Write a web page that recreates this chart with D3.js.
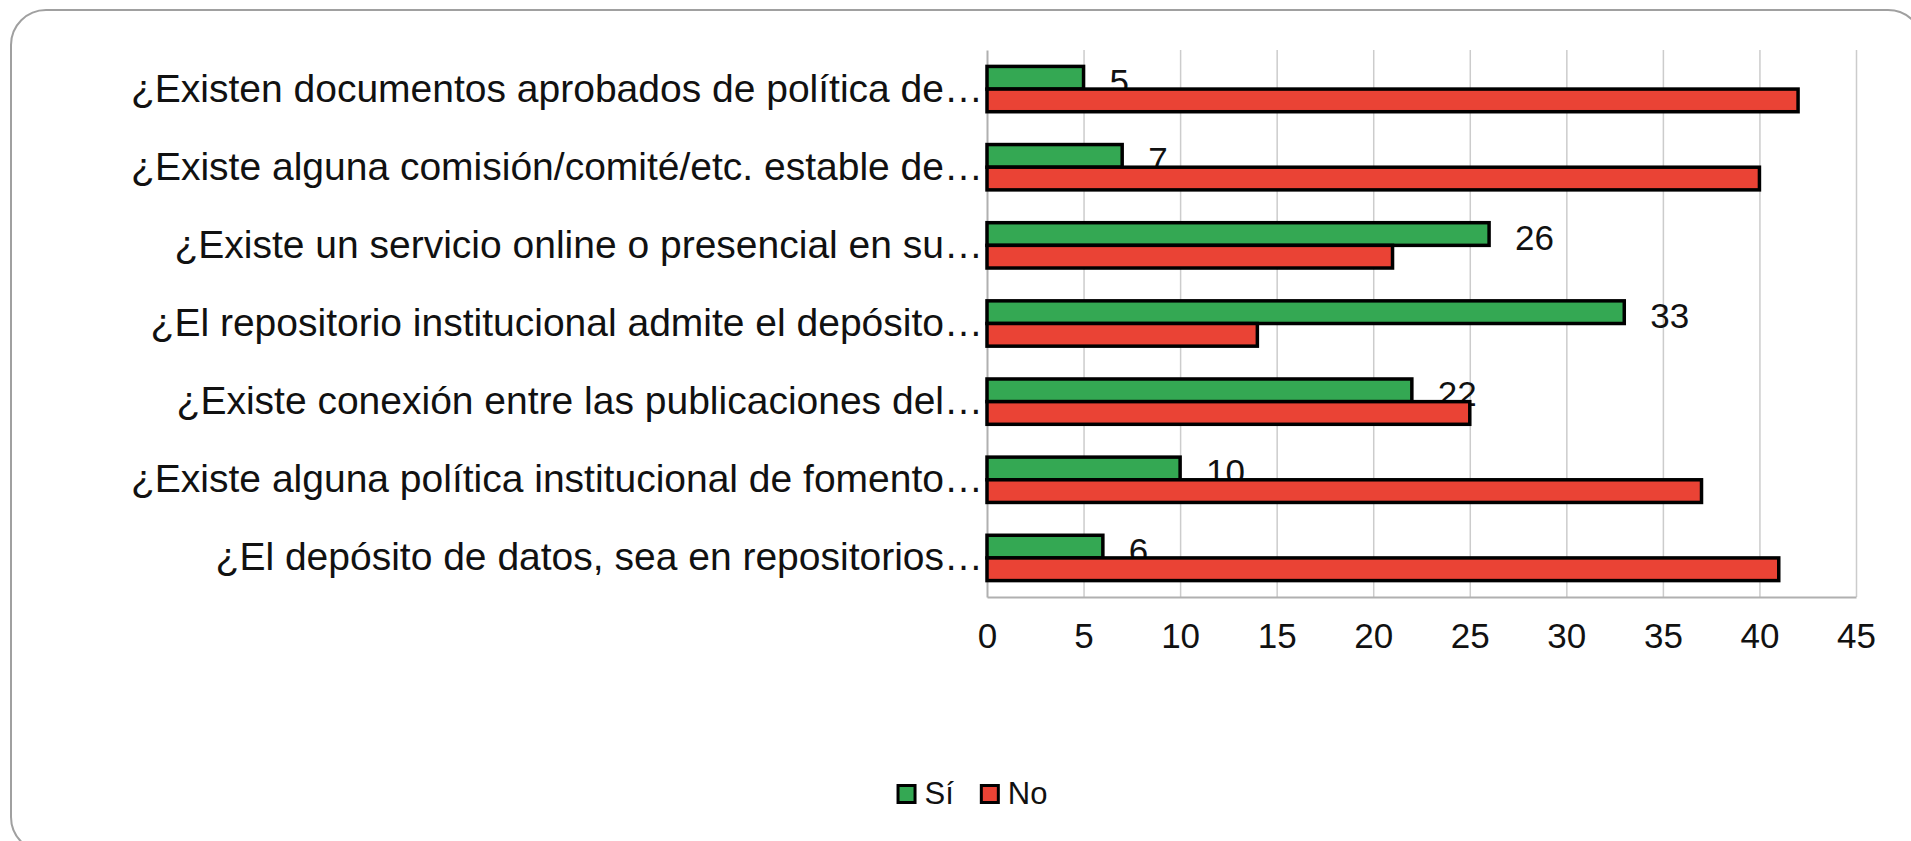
<!DOCTYPE html>
<html>
<head>
<meta charset="utf-8">
<script src="https://cdnjs.cloudflare.com/ajax/libs/d3/7.8.5/d3.min.js"></script>
<style>
  html, body { margin: 0; padding: 0; background: #fff; }
  svg { display: block; font-family: "Liberation Sans", Arial, sans-serif; }
  .grid line { stroke: #cccccc; stroke-width: 1.5; }
  .grid .domain { display: none; }
</style>
</head>
<body>
<div id="chart"></div>
<script>
// data
const categories = [
  '¿Existen documentos aprobados de política de…',
  '¿Existe alguna comisión/comité/etc. estable de…',
  '¿Existe un servicio online o presencial en su…',
  '¿El repositorio institucional admite el depósito…',
  '¿Existe conexión entre las publicaciones del…',
  '¿Existe alguna política institucional de fomento…',
  '¿El depósito de datos, sea en repositorios…'
];
const siValues = [5, 7, 26, 33, 22, 10, 6];
const noValues = [42, 40, 21, 14, 25, 37, 41];
const seriesNames = ['Sí', 'No'];
const seriesColors = ['#34a853', '#ea4335'];
const xTicks = [0, 5, 10, 15, 20, 25, 30, 35, 40, 45];

(function(){
  const W = 1911, H = 841;
  const plot = {left: 987, right: 1856, top: 50, bottom: 597};

  const svg = d3.select('#chart').append('svg')
    .attr('width', W)
    .attr('height', H);

  // outer rounded frame (runs off the bottom-right corner)
  svg.append('rect')
    .attr('x', 11).attr('y', 10)
    .attr('width', 1912).attr('height', 842)
    .attr('rx', 35).attr('ry', 35)
    .attr('fill', '#fff')
    .attr('stroke', '#a0a0a0')
    .attr('stroke-width', 2);

  const x = d3.scaleLinear()
    .domain([0, 45])
    .range([plot.left, plot.right]);

  const y = d3.scaleBand()
    .domain(categories)
    .range([plot.top, plot.bottom])
    .paddingInner(0.42)
    .paddingOuter(0.21);

  const ys = d3.scaleBand()
    .domain(seriesNames)
    .range([0, y.bandwidth()]);

  // vertical gridlines
  svg.append('g')
    .attr('class', 'grid')
    .attr('transform', 'translate(0,' + plot.bottom + ')')
    .call(d3.axisBottom(x)
      .tickValues(xTicks.slice(1))
      .tickSize(-(plot.bottom - plot.top))
      .tickFormat(() => null));

  // x axis labels
  const xAxis = svg.append('g')
    .attr('transform', 'translate(0,' + plot.bottom + ')')
    .call(d3.axisBottom(x)
      .tickValues(xTicks)
      .tickSize(0)
      .tickPadding(26)
      .tickFormat(d3.format('d')));
  xAxis.select('.domain').attr('stroke', '#b0b0b0').attr('stroke-width', 2);
  xAxis.selectAll('text')
    .attr('font-size', 35)
    .attr('font-family', '"Liberation Sans", Arial, sans-serif')
    .attr('fill', '#111');

  // category axis
  const yAxis = svg.append('g')
    .attr('transform', 'translate(' + plot.left + ',0)')
    .call(d3.axisLeft(y).tickSize(0).tickPadding(4));
  yAxis.select('.domain').attr('stroke', '#b0b0b0').attr('stroke-width', 2);
  yAxis.selectAll('text')
    .attr('font-size', 39)
    .attr('font-family', '"Liberation Sans", Arial, sans-serif')
    .attr('fill', '#111');

  const rows = categories.map((c, i) => ({cat: c, si: siValues[i], no: noValues[i]}));

  // Sí bars
  svg.append('g').selectAll('rect')
    .data(rows)
    .enter().append('rect')
      .attr('x', x(0))
      .attr('y', d => y(d.cat) + ys('Sí'))
      .attr('width', d => x(d.si) - x(0))
      .attr('height', ys.bandwidth())
      .attr('fill', seriesColors[0])
      .attr('stroke', '#000')
      .attr('stroke-width', 3.5);

  // Sí labels (the red bars are drawn over them)
  svg.append('g').selectAll('text')
    .data(rows)
    .enter().append('text')
      .attr('x', d => x(d.si) + 26)
      .attr('y', d => y(d.cat) + ys('Sí') + ys.bandwidth() / 2 + 16)
      .attr('font-size', 35)
      .attr('fill', '#111')
      .text(d => d.si);

  // No bars
  svg.append('g').selectAll('rect')
    .data(rows)
    .enter().append('rect')
      .attr('x', x(0))
      .attr('y', d => y(d.cat) + ys('No'))
      .attr('width', d => x(d.no) - x(0))
      .attr('height', ys.bandwidth())
      .attr('fill', seriesColors[1])
      .attr('stroke', '#000')
      .attr('stroke-width', 3.5);

  // legend
  const legend = svg.append('g');
  let cx = 0;
  seriesNames.forEach((name, i) => {
    const item = legend.append('g').attr('transform', 'translate(' + cx + ',0)');
    item.append('rect')
      .attr('x', 1.5).attr('y', -18.5)
      .attr('width', 17).attr('height', 17)
      .attr('fill', seriesColors[i])
      .attr('stroke', '#000')
      .attr('stroke-width', 3);
    const t = item.append('text')
      .attr('x', 28).attr('y', 0)
      .attr('font-size', 31)
      .attr('fill', '#111')
      .text(name);
    cx += 28 + t.node().getComputedTextLength() + 26;
  });
  const lw = cx - 26;
  legend.attr('transform', 'translate(' + (972 - lw / 2) + ',804)');
})();
</script>
</body>
</html>
